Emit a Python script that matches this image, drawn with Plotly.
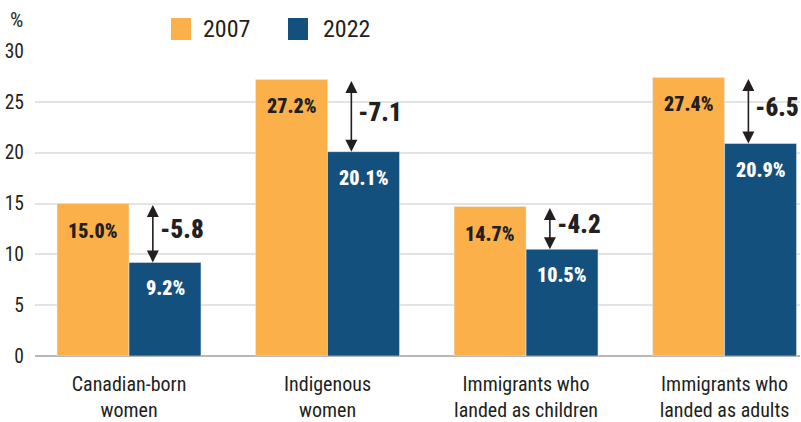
import plotly.graph_objects as go

categories = ["Canadian-born<br>women", "Indigenous<br>women",
              "Immigrants who<br>landed as children", "Immigrants who<br>landed as adults"]
series_names = ["2007", "2022"]
v2007 = [15.0, 27.2, 14.7, 27.4]
v2022 = [9.2, 20.1, 10.5, 20.9]
changes = ["-5.8", "-7.1", "-4.2", "-6.5"]
yticks = [0, 5, 10, 15, 20, 25, 30]

ORANGE = "#FBB04A"
BLUE = "#14507D"
DARK = "#231F20"
FONT = "Roboto Condensed, Liberation Sans Narrow, sans-serif"

W, H = 801, 422
ML, MR, MT, MB = 35, 1, 51, 66
PW, PH = W - ML - MR, H - MT - MB


def px(xp):
    return (xp - ML) / PW


def py(yp):
    return (H - MB - yp) / PH


xs = list(range(len(categories)))
bargap = 0.275
half = (1 - bargap) / 4  # center offset of each bar within group

fig = go.Figure()
fig.add_trace(go.Bar(x=xs, y=v2007, name=series_names[0], marker_color=ORANGE,
                     showlegend=False, hoverinfo="skip"))
fig.add_trace(go.Bar(x=xs, y=v2022, name=series_names[1], marker_color=BLUE,
                     showlegend=False, hoverinfo="skip"))

ann = []
for i, (a, b, c) in enumerate(zip(v2007, v2022, changes)):
    ann.append(dict(x=i - half, y=a, xref="x", yref="y", text=f"{a:.1f}%", showarrow=False,
                    yshift=-27, font=dict(family=FONT, size=20, color=DARK, weight=900)))
    ann.append(dict(x=i + half, y=b, xref="x", yref="y", text=f"{b:.1f}%", showarrow=False,
                    yshift=-26, font=dict(family=FONT, size=20, color="white", weight=900)))
    ax = i + 0.12
    ann.append(dict(x=ax, y=b, ax=ax, ay=a, xref="x", yref="y", axref="x", ayref="y",
                    text="", showarrow=True, arrowhead=2, startarrowhead=2, arrowside="end+start",
                    arrowsize=1.5, startarrowsize=1.5, arrowwidth=1.6, arrowcolor=DARK,
                    standoff=0, startstandoff=0))
    ann.append(dict(x=ax, y=(a + b) / 2, xref="x", yref="y", text=c, showarrow=False,
                    xanchor="left", xshift=5, yshift=3,
                    font=dict(family=FONT, size=25, color=DARK, weight=900)))

ann.append(dict(x=px(16), y=py(20), xref="paper", yref="paper", text="%", showarrow=False,
                xanchor="center", yanchor="middle",
                font=dict(family=FONT, size=21, color=DARK)))

# legend (manual, to get large swatches)
shapes = []
for (sx, tx), name, col in zip([(171, 201), (288, 321)], series_names, [ORANGE, BLUE]):
    shapes.append(dict(type="rect", xref="paper", yref="paper", x0=px(sx), x1=px(sx + 20),
                       y0=py(40), y1=py(18), fillcolor=col, line=dict(width=0)))
    ann.append(dict(x=px(tx), y=py(29), xref="paper", yref="paper", text=name, showarrow=False,
                    xanchor="left", yanchor="middle",
                    font=dict(family=FONT, size=24, color=DARK)))

fig.update_layout(
    width=W, height=H,
    margin=dict(l=ML, r=MR, t=MT, b=MB, autoexpand=False),
    paper_bgcolor="white", plot_bgcolor="white",
    barmode="group", bargap=bargap, bargroupgap=0,
    font=dict(family=FONT, color=DARK),
    annotations=ann, shapes=shapes, showlegend=False,
    xaxis=dict(range=[-0.4736, 3.380], tickvals=xs, ticktext=categories,
               showgrid=False, zeroline=False, showline=False, ticks="",
               tickfont=dict(family=FONT, size=20, color=DARK), ticklabelstandoff=14),
    yaxis=dict(range=[0, 30], tickvals=yticks, showgrid=True, gridcolor="#E3E3E3", gridwidth=1.5,
               zeroline=True, zerolinecolor="#B8B8B8", zerolinewidth=1.5, ticks="",
               tickfont=dict(family=FONT, size=19.5, color=DARK), ticklabelstandoff=10),
)

fig.write_html("out.html")
